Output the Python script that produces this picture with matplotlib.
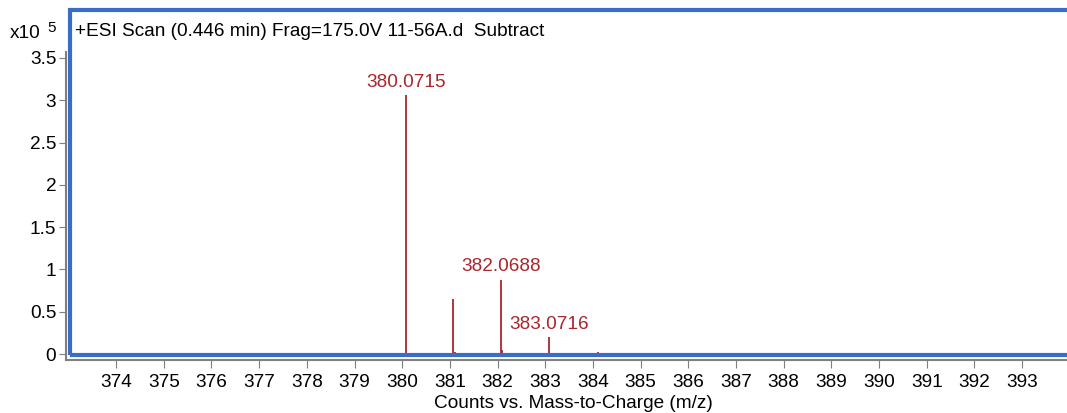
import matplotlib.pyplot as plt
from matplotlib.patches import Rectangle

# dados do espectro (m/z, contagens em x10^5)
peak_mz = [380.0715, 381.0747, 381.10, 382.0688, 382.10, 383.0716, 383.10, 384.10]
peak_counts = [3.06, 0.65, 0.02, 0.88, 0.05, 0.20, 0.01, 0.025]
labeled_mz = [380.0715, 382.0688, 383.0716]
labeled_counts = [3.06, 0.88, 0.20]
labeled_text = ["380.0715", "382.0688", "383.0716"]
x_ticks = list(range(374, 394))
y_ticks = [0, 0.5, 1, 1.5, 2, 2.5, 3, 3.5]
y_tick_labels = ["0", "0.5", "1", "1.5", "2", "2.5", "3", "3.5"]
title = "+ESI Scan (0.446 min) Frag=175.0V 11-56A.d  Subtract"

plt.rcParams['font.family'] = ['Liberation Sans', 'DejaVu Sans']
peak_color = '#A8262C'
box_color = '#3A6DC6'
axis_gray = '#7F7F7F'
fs = 13.7

fig = plt.figure(figsize=(10.67, 4.13), dpi=100)
ax = fig.add_axes([66 / 1067, 53 / 413, 1000 / 1067, 308 / 413])

ax.vlines(peak_mz, 0, peak_counts, color=peak_color, linewidth=1.3)
for mz, c, t in zip(labeled_mz, labeled_counts, labeled_text):
    ax.annotate(t, (mz, c), xytext=(0, 3), textcoords='offset points',
                ha='center', va='bottom', color=peak_color, fontsize=fs)

ax.set_xlim(372.95, 393.92)
ax.set_ylim(-0.07, 3.57)
ax.set_xticks(x_ticks)
ax.set_yticks(y_ticks)
ax.set_yticklabels(y_tick_labels)
ax.tick_params(axis='both', labelsize=fs, color=axis_gray, direction='out')
ax.tick_params(axis='x', length=6, pad=4)
ax.tick_params(axis='y', length=5, pad=2)
for s in ['top', 'right']:
    ax.spines[s].set_visible(False)
for s in ['left', 'bottom']:
    ax.spines[s].set_color(axis_gray)
    ax.spines[s].set_linewidth(1.5)

ax.set_xlabel("Counts vs. Mass-to-Charge (m/z)", fontsize=fs, labelpad=3)
ax.xaxis.set_label_coords((573 - 66) / 1000, -0.115)

# caixa azul de selecao
fig.patches.append(Rectangle((70 / 1067, 58 / 413), 1000 / 1067, 345 / 413,
                             transform=fig.transFigure, fill=False,
                             edgecolor=box_color, linewidth=3, zorder=5))
fig.text(75 / 1067, 1 - 31 / 413, title, fontsize=fs, va='center', ha='left')
fig.text(10 / 1067, 1 - 33 / 413, "x10", fontsize=fs, va='center', ha='left')
fig.text(47 / 1067, 1 - 28 / 413, "5", fontsize=11, va='center', ha='left')

fig.savefig('out.png', dpi=100)
